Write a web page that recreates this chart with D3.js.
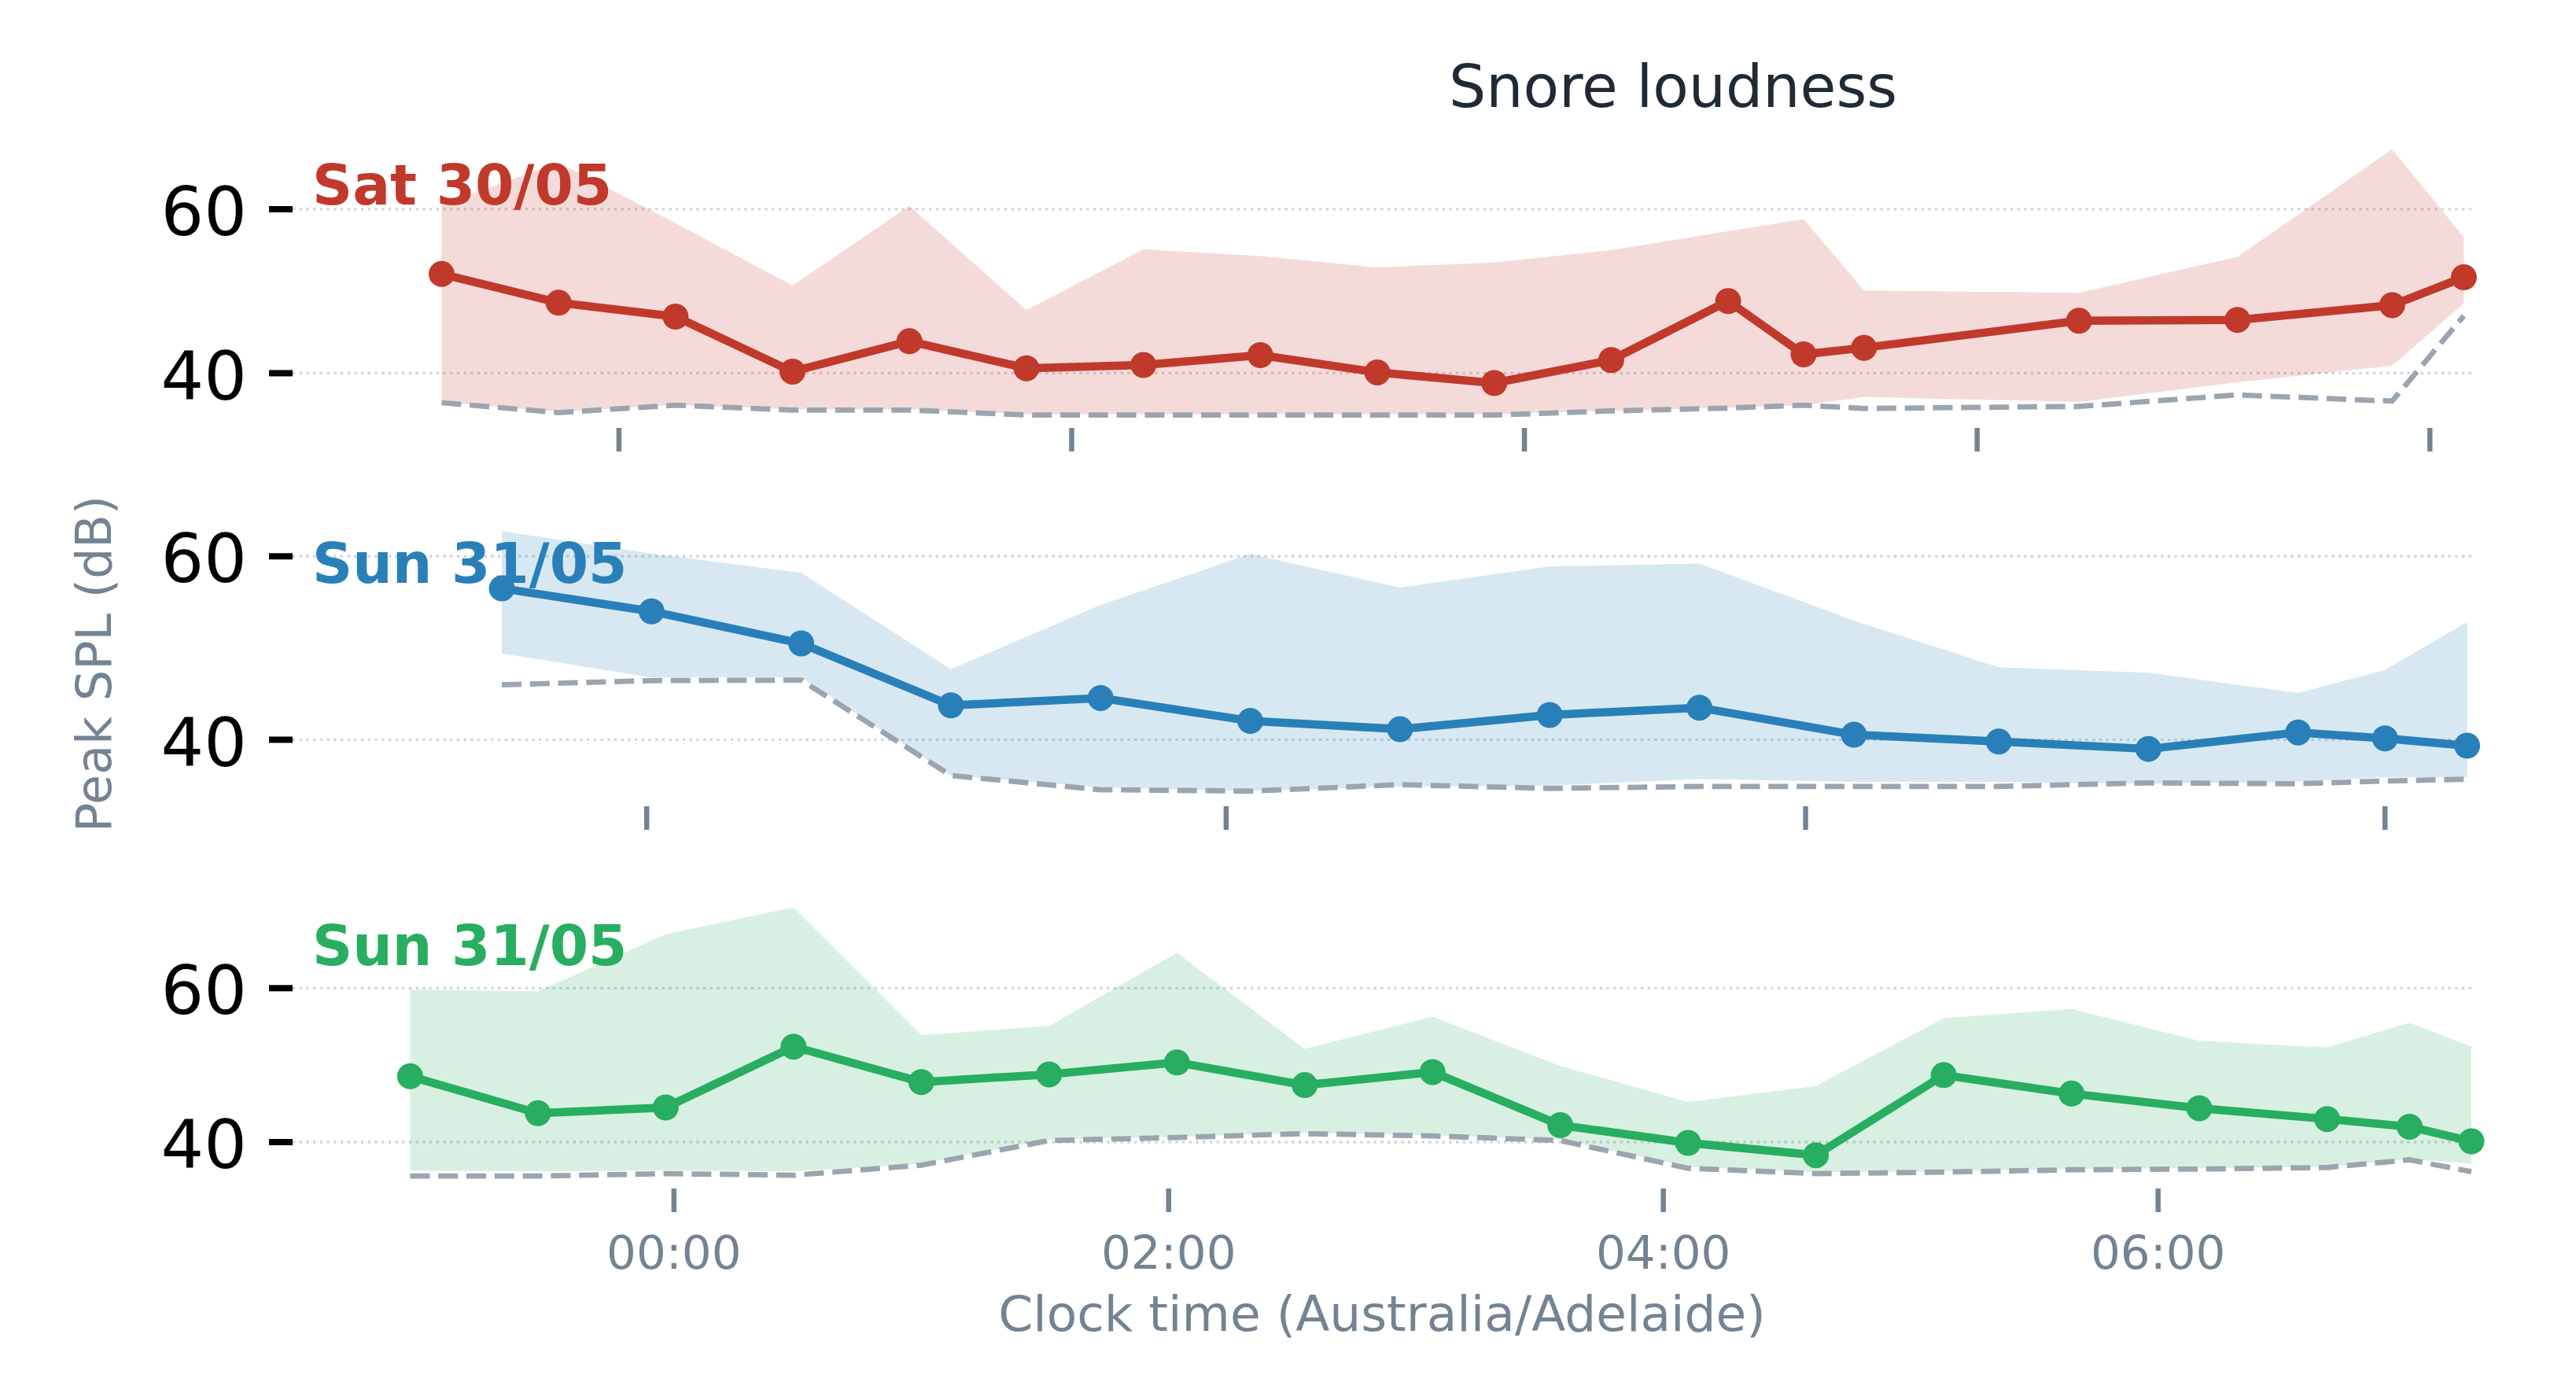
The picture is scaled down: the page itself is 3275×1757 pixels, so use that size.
<!DOCTYPE html>
<html>
<head>
<meta charset="utf-8">
<script src="https://cdn.jsdelivr.net/npm/d3@7"></script>
<style>
html,body{margin:0;padding:0;background:#fff;}
svg{display:block;}
text{font-family:"DejaVu Sans","Liberation Sans",sans-serif;}
</style>
</head>
<body>
<svg id="chart" width="3275" height="1757"></svg>
<script>
// ---------------- DATA ----------------
const nightLabels = ["Sat 30/05", "Sun 31/05", "Sun 31/05"];
const nightBaseDates = ["2020-05-30", "2020-05-31", "2020-05-31"];
const nightColors = ["#c0392b", "#2980b9", "#27ae60"];

// Night 1 (Sat 30/05)
const satTimes  = ["23:13","23:44","00:15","00:46","01:17","01:48","02:19","02:50","03:21","03:52","04:23","04:54","05:14","05:30","06:27","07:09","07:50","08:09"];
const satMedian = [52.1, 48.6, 46.9, 40.2, 43.9, 40.6, 41.0, 42.2, 40.1, 38.8, 41.6, 48.8, 42.3, 43.1, 46.4, 46.5, 48.3, 51.7];
const satUpper  = [60.5, 65.7, 58.3, 50.7, 60.4, 47.7, 55.1, 54.3, 52.9, 53.5, 55.0, 57.3, 58.8, 50.1, 49.8, 54.2, 67.3, 56.6];
const satLower  = [36.5, 35.3, 36.1, 35.6, 35.6, 35.0, 35.0, 35.0, 35.0, 35.0, 35.4, 35.8, 36.1, 37.1, 36.5, 38.9, 40.9, 48.5];
const satFloor  = [36.4, 35.2, 36.1, 35.5, 35.5, 34.9, 34.9, 34.9, 34.9, 34.9, 35.4, 35.75, 36.1, 35.7, 35.95, 37.35, 36.6, 47.0];

// Night 2 (Sun 31/05)
const sunATimes  = ["23:30","00:01","00:32","01:03","01:34","02:05","02:36","03:07","03:38","04:10","04:40","05:11","05:42","06:00","06:17"];
const sunAMedian = [56.5, 54.0, 50.5, 43.75, 44.55, 42.05, 41.15, 42.7, 43.5, 40.55, 39.8, 39.0, 40.8, 40.15, 39.35];
const sunAUpper  = [62.75, 60.3, 58.2, 47.7, 54.7, 60.25, 56.6, 58.9, 59.2, 53.0, 47.9, 47.3, 45.1, 47.6, 52.85];
const sunALower  = [49.4, 46.8, 46.8, 36.1, 34.8, 34.4, 34.9, 35.0, 35.7, 35.4, 35.4, 35.2, 35.45, 35.9, 35.9];
const sunAFloor  = [46.0, 46.45, 46.5, 36.1, 34.55, 34.4, 35.1, 34.7, 34.9, 34.9, 34.9, 35.3, 35.2, 35.5, 35.7];

// Night 3 (Sun 31/05)
const sunBTimes  = ["22:56","23:27","23:58","00:29","01:00","01:31","02:02","02:33","03:04","03:35","04:06","04:37","05:08","05:39","06:10","06:41","07:01","07:16"];
const sunBMedian = [48.55, 43.75, 44.5, 52.4, 47.8, 48.8, 50.35, 47.4, 49.1, 42.2, 39.9, 38.3, 48.7, 46.3, 44.4, 43.0, 42.0, 40.1];
const sunBUpper  = [59.8, 59.6, 67.0, 70.5, 53.9, 55.1, 64.6, 52.1, 56.3, 49.9, 45.2, 47.3, 56.1, 57.3, 53.15, 52.3, 55.5, 52.4];
const sunBLower  = [36.3, 36.2, 36.3, 36.2, 37.2, 40.3, 40.7, 41.2, 40.9, 40.3, 36.8, 36.1, 36.2, 36.5, 36.6, 36.8, 37.8, 37.2];
const sunBFloor  = [35.6, 35.6, 35.9, 35.7, 37.0, 40.2, 40.6, 41.1, 40.8, 40.2, 36.6, 35.9, 36.1, 36.4, 36.5, 36.7, 37.7, 36.15];

// Axis extents and ticks
const xStarts = ["22:33:30", "22:46:40", "22:27:30"];
const xEnds   = ["08:11:00", "06:17:53", "07:16:00"];
const yDomains = [[33.33, 69.11], [32.75, 64.74], [33.97, 72.09]];
const yTickValues = [40, 60];

const titleText = "Snore loudness";
const xLabelText = "Clock time (Australia/Adelaide)";
const yLabelText = "Peak SPL (dB)";

// ---------------- LAYOUT ----------------
const plotLeft = 372, plotRight = 3142;
const panelTops = [171, 652, 1138];
const panelHeight = 373;
const slate = "#738394";

function toDate(base, hms) {
  const [Y, M, D] = base.split("-").map(Number);
  const p = hms.split(":").map(Number);
  const d = new Date(Y, M - 1, D, p[0], p[1], p[2] || 0);
  if (p[0] < 12) d.setDate(d.getDate() + 1);
  return d;
}

const nights = [
  {times: satTimes, median: satMedian, upper: satUpper, lower: satLower, floor: satFloor},
  {times: sunATimes, median: sunAMedian, upper: sunAUpper, lower: sunALower, floor: sunAFloor},
  {times: sunBTimes, median: sunBMedian, upper: sunBUpper, lower: sunBLower, floor: sunBFloor}
];

const svg = d3.select("#chart");

nights.forEach((n, i) => {
  const base = nightBaseDates[i];
  const color = nightColors[i];
  const top = panelTops[i], bottom = top + panelHeight;
  const rows = n.times.map((t, k) => ({
    t: toDate(base, t), med: n.median[k], hi: n.upper[k], lo: n.lower[k], fl: n.floor[k]
  }));
  const x = d3.scaleTime()
    .domain([toDate(base, xStarts[i]), toDate(base, xEnds[i])])
    .range([plotLeft, plotRight]);
  const y = d3.scaleLinear().domain(yDomains[i]).range([bottom, top]);

  const g = svg.append("g");

  // grid
  g.selectAll("line.grid").data(yTickValues).join("line")
    .attr("x1", plotLeft).attr("x2", plotRight)
    .attr("y1", d => y(d)).attr("y2", d => y(d))
    .attr("stroke", "#d0d5db").attr("stroke-width", 3.3)
    .attr("stroke-dasharray", "3.3,5.4");

  // band
  g.append("path").datum(rows)
    .attr("d", d3.area().x(d => x(d.t)).y0(d => y(d.lo)).y1(d => y(d.hi)))
    .attr("fill", color).attr("fill-opacity", 0.18).attr("stroke", "none");

  // noise floor
  g.append("path").datum(rows)
    .attr("d", d3.line().x(d => x(d.t)).y(d => y(d.fl)))
    .attr("fill", "none").attr("stroke", "#9ba5b0").attr("stroke-width", 6.75)
    .attr("stroke-dasharray", "25,10.8");

  // median line
  g.append("path").datum(rows)
    .attr("d", d3.line().x(d => x(d.t)).y(d => y(d.med)))
    .attr("fill", "none").attr("stroke", color).attr("stroke-width", 10.5)
    .attr("stroke-linejoin", "round").attr("stroke-linecap", "round");

  g.selectAll("circle.pt").data(rows).join("circle")
    .attr("cx", d => x(d.t)).attr("cy", d => y(d.med)).attr("r", 16.5)
    .attr("fill", color);

  // y ticks
  g.selectAll("line.ytick").data(yTickValues).join("line")
    .attr("x1", plotLeft - 30).attr("x2", plotLeft)
    .attr("y1", d => y(d)).attr("y2", d => y(d))
    .attr("stroke", "#000").attr("stroke-width", 8);
  g.selectAll("text.ytl").data(yTickValues).join("text")
    .attr("x", plotLeft - 58).attr("y", d => y(d)).attr("dy", "0.385em")
    .attr("text-anchor", "end").attr("font-size", 86).attr("fill", "#000")
    .text(d => d);

  // x ticks
  const xt = x.ticks(d3.timeHour.every(2));
  g.selectAll("line.xtick").data(xt).join("line")
    .attr("x1", d => x(d)).attr("x2", d => x(d))
    .attr("y1", bottom).attr("y2", bottom + 30)
    .attr("stroke", slate).attr("stroke-width", 6.5);
  if (i === nights.length - 1) {
    const fmt = d3.timeFormat("%H:%M");
    g.selectAll("text.xtl").data(xt).join("text")
      .attr("x", d => x(d)).attr("y", bottom + 102)
      .attr("text-anchor", "middle").attr("font-size", 59.5).attr("fill", slate)
      .text(d => fmt(d));
  }

  // night label
  g.append("text")
    .attr("x", 397).attr("y", top + 89)
    .attr("font-size", 71).attr("font-weight", "bold").attr("fill", color)
    .text(nightLabels[i]);
});

// title and axis labels
svg.append("text").attr("x", 2127).attr("y", 136).attr("text-anchor", "middle")
  .attr("font-size", 74.5).attr("fill", "#1f2a36").text(titleText);
svg.append("text").attr("x", (plotLeft + plotRight) / 2).attr("y", 1692)
  .attr("text-anchor", "middle").attr("font-size", 63).attr("fill", slate).text(xLabelText);
svg.append("text").attr("transform", "translate(141,844) rotate(-90)")
  .attr("text-anchor", "middle").attr("font-size", 62).attr("fill", slate).text(yLabelText);
</script>
</body>
</html>
